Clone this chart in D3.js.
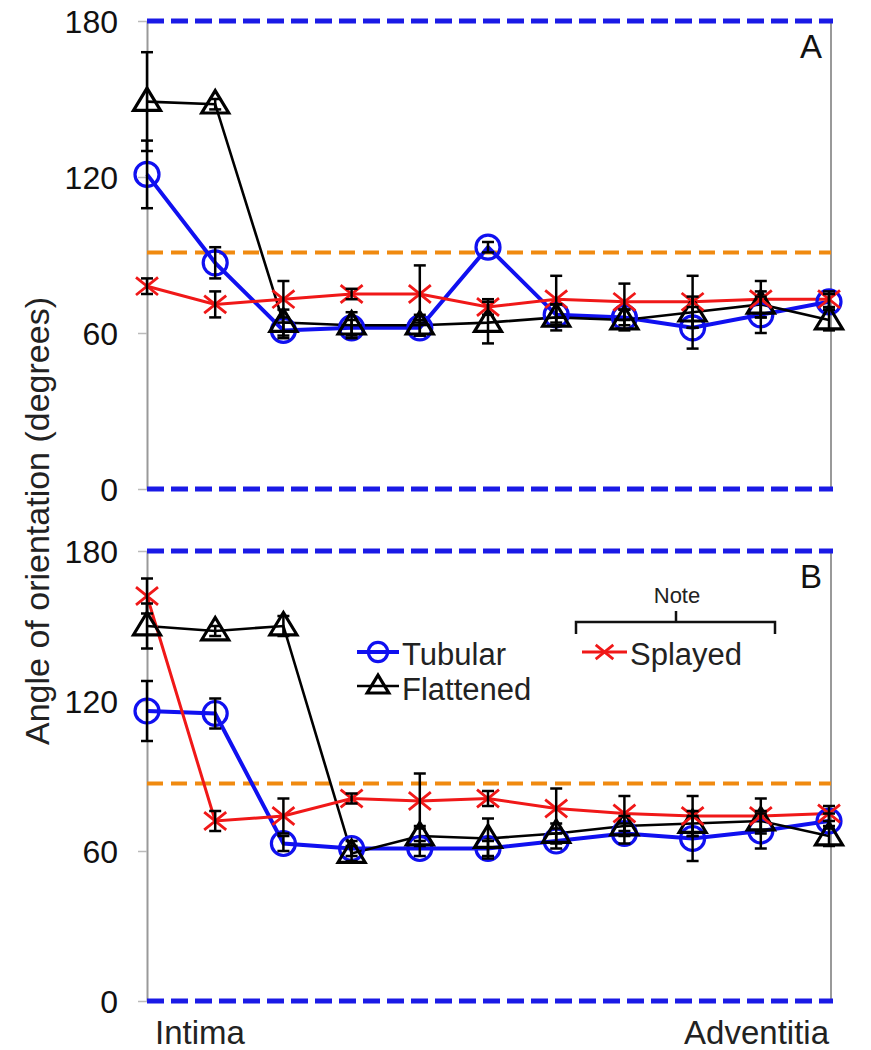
<!DOCTYPE html>
<html><head><meta charset="utf-8">
<script src="https://cdn.jsdelivr.net/npm/d3@7"></script>
<style>body{margin:0;background:#fff} svg{display:block}</style>
</head><body><svg id="c" width="871" height="1050"></svg>
<script>
// ---------- data ----------
const positions = [1,2,3,4,5,6,7,8,9,10,11];
const yTicks = [0,60,120,180];
const seriesNames = ["Tubular","Flattened","Splayed"];
const seriesColors = ["#1010f0","#000000","#f01818"];

const tubularA     = [121, 87, 61, 62, 62, 93, 67, 66, 62, 67, 72];
const tubularAErr  = [13, 6, 3, 3, 3, 2, 4, 3, 8, 7, 3];
const flattenedA   = [149, 148, 64, 63, 63, 64, 66, 65, 68, 71, 65];
const flattenedAErr= [19, 2, 5, 5, 4, 8, 5, 4, 6, 5, 4];
const splayedA     = [78, 71, 73, 75, 75, 70, 73, 72, 72, 73, 73];
const splayedAErr  = [3, 5, 7, 2, 11, 3, 9, 7, 10, 7, 3];

const tubularB     = [116, 115, 63, 61, 61, 61, 64, 67, 65, 68, 72];
const tubularBErr  = [12, 6, 3, 3, 3, 3, 3, 4, 9, 7, 3];
const flattenedB   = [150, 148, 150, 59, 66, 65, 67, 70, 71, 72, 66];
const flattenedBErr= [9, 2, 4, 3, 4, 8, 4, 4, 5, 4, 4];
const splayedB     = [162, 72, 74, 81, 80, 81, 77, 75, 74, 74, 75];
const splayedBErr  = [7, 4, 7, 2, 11, 3, 8, 7, 8, 7, 3];

const boundsLines = [0, 180];
const meanLineA = 91;
const meanLineB = 87;
const panelLabels = ["A","B"];
const xEndLabels = ["Intima","Adventitia"];
const yTitle = "Angle of orientation (degrees)";
const noteText = "Note";

// ---------- drawing ----------
const svg = d3.select("#c");
const FONT = "'Liberation Sans', Arial, Helvetica, sans-serif";
const x = d3.scaleLinear().domain([1,11]).range([147,829]);

const panels = [
  {label:panelLabels[0], top:21, bottom:489, mean:meanLineA,
   series:[[tubularA,tubularAErr],[flattenedA,flattenedAErr],[splayedA,splayedAErr]]},
  {label:panelLabels[1], top:551, bottom:1001, mean:meanLineB,
   series:[[tubularB,tubularBErr],[flattenedB,flattenedBErr],[splayedB,splayedBErr]]}
];

function marker(g, type, cx, cy, s) {
  s = s || 1;
  if (type === 0) {
    g.append("circle").attr("cx",cx).attr("cy",cy).attr("r",12*s)
      .attr("fill","none").attr("stroke",seriesColors[0]).attr("stroke-width",3.2);
  } else if (type === 1) {
    const h = 13.5*s;
    g.append("path")
      .attr("d",`M${cx},${cy-h}L${cx+h},${cy+h*0.65}L${cx-h},${cy+h*0.65}Z`)
      .attr("fill","none").attr("stroke",seriesColors[1]).attr("stroke-width",3.2)
      .attr("stroke-linejoin","miter");
  } else {
    const a = 11*s;
    g.append("path")
      .attr("d",`M${cx-a},${cy-a*0.8}L${cx+a},${cy+a*0.8}M${cx-a},${cy+a*0.8}L${cx+a},${cy-a*0.8}`)
      .attr("stroke",seriesColors[2]).attr("stroke-width",2.8).attr("fill","none");
  }
}

const lineWidths = [4, 2.6, 3];

panels.forEach(p => {
  const y = d3.scaleLinear().domain([0,180]).range([p.bottom, p.top]);
  const g = svg.append("g");

  // right border
  g.append("line").attr("x1",831).attr("x2",831).attr("y1",p.top).attr("y2",p.bottom)
    .attr("stroke","#999").attr("stroke-width",2);

  // y axis
  const ax = g.append("g").attr("transform","translate(147,0)")
    .call(d3.axisLeft(y).tickValues(yTicks).tickSize(9).tickPadding(20).tickSizeOuter(0));
  ax.select(".domain").attr("stroke","#999").attr("stroke-width",2);
  ax.selectAll(".tick line").attr("stroke","#bbb").attr("stroke-width",1.5);
  ax.selectAll(".tick text").attr("font-family",FONT).attr("font-size",32)
    .attr("fill","#111").attr("dy","0.36em");

  // reference dashed lines
  boundsLines.forEach(v => {
    g.append("line").attr("x1",147).attr("x2",833).attr("y1",y(v)).attr("y2",y(v))
      .attr("stroke","#1a1ae6").attr("stroke-width",5).attr("stroke-dasharray","17,7");
  });
  g.append("line").attr("x1",147).attr("x2",831).attr("y1",y(p.mean)).attr("y2",y(p.mean))
    .attr("stroke","#f08a10").attr("stroke-width",4).attr("stroke-dasharray","16,8");

  // series lines
  const line = d3.line().x((d,i)=>x(positions[i])).y(d=>y(d));
  p.series.forEach((s,k) => {
    g.append("path").datum(s[0]).attr("d",line).attr("fill","none")
      .attr("stroke",seriesColors[k]).attr("stroke-width",lineWidths[k]);
  });
  // markers
  p.series.forEach((s,k) => {
    s[0].forEach((v,i) => marker(g, k, x(positions[i]), y(v)));
  });
  // error bars
  p.series.forEach((s,k) => {
    s[0].forEach((v,i) => {
      const e = s[1][i], cx = x(positions[i]);
      g.append("line").attr("x1",cx).attr("x2",cx).attr("y1",y(v+e)).attr("y2",y(v-e))
        .attr("stroke","#000").attr("stroke-width",2.5);
      [v+e, v-e].forEach(t => g.append("line").attr("x1",cx-6).attr("x2",cx+6)
        .attr("y1",y(t)).attr("y2",y(t)).attr("stroke","#000").attr("stroke-width",2.5));
    });
  });

  // panel label
  g.append("text").attr("x",822).attr("y",p.top+37).attr("text-anchor","end")
    .attr("font-family",FONT).attr("font-size",33).attr("fill","#111").text(p.label);
});

// y title
svg.append("text").attr("transform","translate(49,521) rotate(-90)")
  .attr("text-anchor","middle").attr("font-family",FONT).attr("font-size",34)
  .attr("fill","#222").text(yTitle);

// x end labels
svg.append("text").attr("x",155).attr("y",1044).attr("font-family",FONT)
  .attr("font-size",33).attr("fill","#222").text(xEndLabels[0]);
svg.append("text").attr("x",829).attr("y",1044).attr("text-anchor","end").attr("font-family",FONT)
  .attr("font-size",33).attr("fill","#222").text(xEndLabels[1]);

// legend
const leg = svg.append("g");
const legItems = [
  {k:0, x0:357, x1:399, y:652, tx:402, ty:665},
  {k:1, x0:357, x1:399, y:686, tx:402, ty:700},
  {k:2, x0:582, x1:627, y:652, tx:630, ty:665}
];
legItems.forEach(it => {
  leg.append("line").attr("x1",it.x0).attr("x2",it.x1).attr("y1",it.y).attr("y2",it.y)
    .attr("stroke",seriesColors[it.k]).attr("stroke-width",lineWidths[it.k]);
  marker(leg, it.k, (it.x0+it.x1)/2, it.y, 0.8);
  leg.append("text").attr("x",it.tx).attr("y",it.ty).attr("font-family",FONT)
    .attr("font-size",31).attr("fill","#222").text(seriesNames[it.k]);
});
// note bracket
leg.append("path").attr("d","M576,634L576,622L775,622L775,634M676,622L676,611")
  .attr("fill","none").attr("stroke","#111").attr("stroke-width",2.5);
leg.append("text").attr("x",677).attr("y",603).attr("text-anchor","middle")
  .attr("font-family",FONT).attr("font-size",22).attr("fill","#222").text(noteText);
</script></body></html>
